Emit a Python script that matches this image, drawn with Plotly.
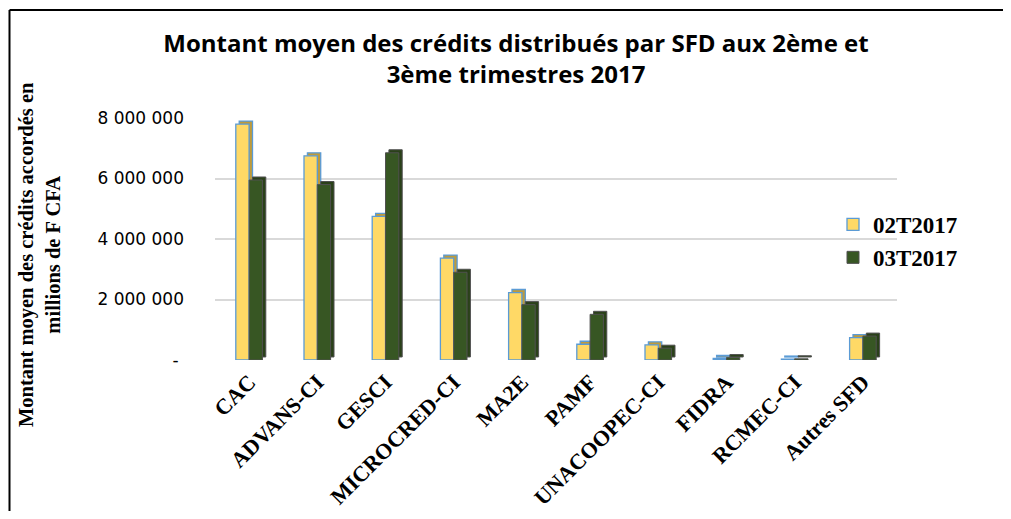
import plotly.graph_objects as go

# ---------------- data ----------------
categories = ["CAC", "ADVANS-CI", "GESCI", "MICROCRED-CI", "MA2E", "PAMF",
              "UNACOOPEC-CI", "FIDRA", "RCMEC-CI", "Autres SFD"]
q2_2017 = [7800000, 6750000, 4750000, 3370000, 2230000, 520000, 500000, 50000, 30000, 740000]
q3_2017 = [5950000, 5800000, 6850000, 2900000, 1830000, 1510000, 390000, 80000, 40000, 790000]
series_names = ["02T2017", "03T2017"]
tick_values = [0, 2000000, 4000000, 6000000, 8000000]
tick_labels = ["- ", "2 000 000", "4 000 000", "6 000 000", "8 000 000"]

# ---------------- layout constants (page pixels) ----------------
PAGE_W, PAGE_H = 1011, 519
OFF = 8  # default page body margin
W, H = PAGE_W - 2 * OFF, PAGE_H - 2 * OFF   # figure fits the window
PLOT_L, PLOT_R, PLOT_T, PLOT_B = 215, 897, 118, 360   # plot area in page pixels
ML, MT = PLOT_L - OFF, PLOT_T - OFF
MR, MB = W - (PLOT_R - OFF), H - (PLOT_B - OFF)
PW, PH = PLOT_R - PLOT_L, PLOT_B - PLOT_T

BAR_W = 0.195      # front-face width (category units)
DX = 0.05          # depth shift (category units)
DY = 100000        # depth shift (value units)

YELLOW, YELLOW_SIDE, YELLOW_EDGE = "#FFD966", "#BF9B3A", "#5B9BD5"
GREEN, GREEN_SIDE, GREEN_EDGE = "#375623", "#2A4119", "#505050"


def px_x(p):
    return (p - PLOT_L) / PW


def px_y(p):
    return (PLOT_B - p) / PH


fig = go.Figure()

specs = [
    (q2_2017, series_names[0], -BAR_W, YELLOW, YELLOW_SIDE, YELLOW_EDGE, 1.3),
    (q3_2017, series_names[1], 0.0, GREEN, GREEN_SIDE, GREEN_EDGE, 1.0),
]
for vals, name, off, col, side, edge, lw in specs:
    # depth (side + top faces)
    fig.add_trace(go.Bar(
        x=categories, y=vals, base=[DY] * len(vals), offset=off + DX, width=BAR_W,
        marker=dict(color=side, line=dict(color=edge, width=lw)),
        showlegend=False, hoverinfo="skip", legendgroup=name))
    # front face
    fig.add_trace(go.Bar(
        x=categories, y=vals, offset=off, width=BAR_W, name=name,
        marker=dict(color=col, line=dict(color=edge, width=lw)),
        legendgroup=name))

fig.update_layout(
    width=W, height=H,
    margin=dict(l=ML, r=MR, t=MT, b=MB, autoexpand=False),
    paper_bgcolor="white", plot_bgcolor="white",
    barmode="overlay",
    title=dict(
        text="<b>Montant moyen des crédits distribués par SFD aux 2ème et<br>3ème trimestres 2017</b>",
        x=(516 - OFF) / W, xanchor="center", xref="container",
        y=1 - (52 - OFF) / H, yanchor="middle", yref="container",
        font=dict(family="Open Sans", size=24, color="#000000")),
    legend=dict(
        x=px_x(833), y=px_y(241), xanchor="left", yanchor="middle",
        font=dict(family="Liberation Serif", size=23, color="#000000", weight="bold"),
        itemwidth=30, tracegroupgap=0, traceorder="grouped",
        bgcolor="rgba(0,0,0,0)"),
    font=dict(family="Liberation Serif", color="#000000"),
)

fig.update_xaxes(
    type="category", categoryorder="array", categoryarray=categories,
    range=[-0.5, len(categories) - 0.5], automargin=False,
    showgrid=False, showline=False, zeroline=False, ticks="",
    tickangle=-45,
    tickfont=dict(family="Liberation Serif", size=22, color="#000000", weight="bold"),
    ticklabelstandoff=4,
)
fig.update_yaxes(
    range=[0, 8000000], automargin=False,
    tickvals=tick_values, ticktext=tick_labels,
    showgrid=True, gridcolor="#D9D9D9", gridwidth=1.5,
    zeroline=False, showline=False, ticks="",
    tickfont=dict(family="DejaVu Sans", size=17, color="#000000"),
    ticklabelstandoff=30,
)

# y-axis title
fig.add_annotation(
    text="<b>Montant moyen des crédits accordés en<br>millions de F CFA</b>",
    xref="paper", yref="paper", x=px_x(39), y=px_y(255),
    xanchor="center", yanchor="middle", textangle=-90, showarrow=False,
    font=dict(family="Liberation Serif", size=20.5, color="#000000"))

# chart frame (only left and top edges are visible in the reference)
frame = dict(color="#000000", width=2)
fig.add_shape(type="line", xref="paper", yref="paper",
              x0=px_x(OFF + 1.5), x1=px_x(OFF + 1.5), y0=px_y(PAGE_H + 20), y1=px_y(10),
              line=frame, layer="above")
fig.add_shape(type="line", xref="paper", yref="paper",
              x0=px_x(OFF + 1.5), x1=px_x(PAGE_W + 30), y0=px_y(10), y1=px_y(10),
              line=frame, layer="above")

fig.write_html("out.html")
